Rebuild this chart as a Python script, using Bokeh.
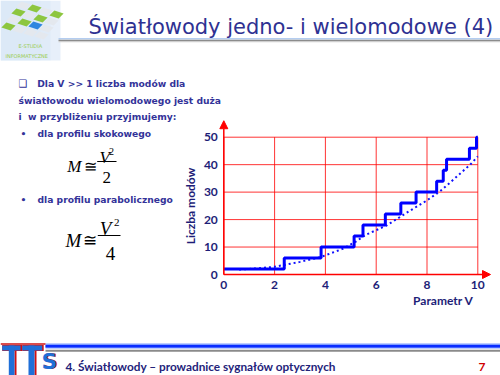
from bokeh.plotting import figure
from bokeh.models import Range1d, Label, Arrow, NormalHead, FixedTicker, LinearAxis
from bokeh.embed import file_html
from bokeh.resources import INLINE

# ---------------- data ----------------
step_v = [0.0, 2.38, 3.83, 5.13, 5.48, 6.36, 6.97, 7.57, 8.38, 8.64, 8.77, 9.67, 9.95, 10.0]
step_m = [2, 6, 10, 14, 18, 22, 26, 30, 34, 38, 42, 46, 50, 50]
approx_v = [0.6, 1.0, 2.0, 3.0, 3.8, 4.7, 5.2, 5.6, 6.4, 7.2, 8.0, 8.5, 8.9, 9.3, 9.7, 10.0]
approx_m = [1.8, 2.0, 2.8, 4.6, 6.3, 9.4, 12.0, 14.5, 17.8, 22.5, 27.0, 30.2, 33.4, 36.7, 40.0, 43.0]
x_ticks = [0, 2, 4, 6, 8, 10]
y_ticks = [0, 10, 20, 30, 40, 50]

TITLE = "Światłowody jedno- i wielomodowe (4)"
BODY = ["Dla V >> 1 liczba modów dla",
        "światłowodu wielomodowego jest duża",
        "i\u00a0 w przybliżeniu przyjmujemy:",
        "dla profilu skokowego",
        "dla profilu parabolicznego"]
X_LABEL = "Parametr V"
Y_LABEL = "Liczba modów"
FOOTER = "4. Światłowody – prowadnice sygnałów optycznych"
PAGE = "7"

# ---------------- layout constants (canvas pixels) ----------------
W, H = 500, 375
CX0, CX1 = 223.3, 477.3      # canvas x of V = 0 and V = 10
CY0, CY1 = 274.0, 136.7      # canvas y (from top) of M = 0 and M = 50
xs_ = (CX1 - CX0) / (x_ticks[-1] - x_ticks[0])
ys_ = (CY0 - CY1) / (y_ticks[-1] - y_ticks[0])
x_range = Range1d(x_ticks[0] - CX0 / xs_, x_ticks[-1] + (W - CX1) / xs_)
y_range = Range1d(y_ticks[0] - (H - CY0) / ys_, y_ticks[-1] + CY1 / ys_)

NAVY = "#333399"
AXC = "#1e1e78"
RED = "#ff0000"
AXFONT = "Lato"
PX = dict(x_range_name="px", y_range_name="px")

p = figure(width=W, height=H, x_range=x_range, y_range=y_range,
           output_backend="svg", toolbar_location=None, min_border=0,
           x_axis_type=None, y_axis_type=None, title=None)
p.extra_x_ranges = {"px": Range1d(0, W)}
p.extra_y_ranges = {"px": Range1d(H, 0)}
p.grid.visible = False
p.outline_line_color = None
p.background_fill_color = "white"
p.border_fill_color = "white"


def txt(x, y, t, size, color=NAVY, font="DejaVu Sans", style="bold",
        align="left", baseline="alphabetic"):
    p.add_layout(Label(x=x, y=y, text=t, text_font=font, text_font_size=f"{size}px",
                       text_font_style=style, text_color=color, text_align=align,
                       text_baseline=baseline, **PX))


# ---------------- logo (decorative) ----------------
for k, a in enumerate([0.5, 0.3, 0.2]):
    p.quad(left=0, right=60 - 10 * k, top=0, bottom=60, fill_color="#cfe0f5",
           fill_alpha=a, line_color=None, **PX)
ox, oy = 20.0, 0.0
u = (11.0, 3.0)
v = (-5.0, 7.0)
cols = {"g": "#8dc63f", "b": "#2f86e0", "w": "#e4e8ee"}
pattern = [["w", "g", "w", "g"],
           ["g", "w", "g", "w"],
           ["w", "g", "b", "w"],
           ["g", "w", "w", "w"]]
for j, rowp in enumerate(pattern):
    for i, c in enumerate(rowp):
        x0 = ox + i * u[0] + j * v[0]
        y0 = oy + i * u[1] + j * v[1]
        g = 0.9
        xs = [x0 + g, x0 + u[0] - g, x0 + u[0] + v[0] - g, x0 + v[0] + g]
        ys = [y0 + g, y0 + u[1] + g, y0 + u[1] + v[1] - g, y0 + v[1] - g]
        p.patch(xs, ys, fill_color=cols[c], line_color=None, **PX)
txt(18, 45, "E-STUDIA", 5, color="#9acd50", style="normal")
txt(5, 55, "INFORMATYCZNE", 5, color="#9acd50", style="normal")

# ---------------- title ----------------
txt(88, 26.7, TITLE, 21, style="normal", color="#2e3192")
p.segment(x0=58, y0=38.3, x1=W, y1=38.3, line_color="#b4cdf0", line_width=1.5, **PX)
p.segment(x0=58, y0=39.8, x1=W, y1=39.8, line_color="#8c8c8c", line_width=1.2, **PX)
p.segment(x0=58, y0=41.2, x1=W, y1=41.2, line_color="#cfcfcf", line_width=1.2, **PX)

# ---------------- body text ----------------
txt(18, 83.3, "❑", 10, style="normal")
txt(36.7, 83.3, BODY[0], 9.2)
txt(18, 99.5, BODY[1], 9.2)
txt(18, 116, BODY[2], 9.2)
txt(20, 132.5, "•", 9.2)
txt(37, 132.5, BODY[3], 9.2)
txt(20, 198.7, "•", 9.2)
txt(37, 198.7, BODY[4], 9.2)

SERIF = "Liberation Serif"
# M ≅ V^2 / 2
txt(66.7, 166, "M", 17, color="black", font=SERIF, style="italic")
txt(89.7, 165.5, "≅", 16, color="black", font="DejaVu Serif", style="normal", align="center")
txt(99, 156.7, "V", 17, color="black", font=SERIF, style="italic")
txt(108.5, 151, "2", 10, color="black", font=SERIF, style="normal")
p.segment(x0=96.7, y0=161, x1=116, y1=161, line_color="black", line_width=1, **PX)
txt(106.3, 176.7, "2", 17, color="black", font=SERIF, style="normal", align="center")
# M ≅ V^2 / 4
txt(65, 240, "M", 19, color="black", font=SERIF, style="italic")
txt(89.7, 239, "≅", 17, color="black", font="DejaVu Serif", style="normal", align="center")
txt(99.3, 228.3, "V", 19, color="black", font=SERIF, style="italic")
txt(113.5, 222.3, "2", 11, color="black", font=SERIF, style="normal")
p.segment(x0=97.3, y0=235, x1=120, y1=235, line_color="black", line_width=1, **PX)
txt(110, 253.3, "4", 19, color="black", font=SERIF, style="normal", align="center")

# ---------------- chart ----------------
n_x, n_y = len(x_ticks), len(y_ticks)
p.segment(x0=x_ticks, y0=[y_ticks[0]] * n_x, x1=x_ticks, y1=[y_ticks[-1]] * n_x,
          line_color=RED, line_alpha=0.8, line_width=1)
p.segment(x0=[x_ticks[0]] * n_y, y0=y_ticks, x1=[x_ticks[-1]] * n_y, y1=y_ticks,
          line_color=RED, line_alpha=0.8, line_width=1)

xax = LinearAxis(fixed_location=0, bounds=(x_ticks[0], x_ticks[-1]),
                 ticker=FixedTicker(ticks=x_ticks))
yax = LinearAxis(fixed_location=0, bounds=(y_ticks[0], y_ticks[-1]),
                 ticker=FixedTicker(ticks=y_ticks), axis_label=Y_LABEL)
for ax in (xax, yax):
    ax.axis_line_color = None
    ax.major_tick_line_color = None
    ax.minor_tick_line_color = None
    ax.major_tick_out = 0
    ax.major_tick_in = 0
    ax.minor_tick_out = 0
    ax.minor_tick_in = 0
    ax.major_label_text_font = AXFONT
    ax.major_label_text_font_style = "bold"
    ax.major_label_text_font_size = "12px"
    ax.major_label_text_color = AXC
xax.major_label_standoff = 6
yax.major_label_standoff = 6
yax.axis_label_text_font = AXFONT
yax.axis_label_text_font_style = "bold"
yax.axis_label_text_font_size = "12px"
yax.axis_label_text_color = AXC
yax.axis_label_standoff = 3
p.add_layout(xax, "below")
p.add_layout(yax, "left")

p.line(approx_v, approx_m, line_color="#1010ff", line_width=2, line_dash="2 3")
p.step(step_v, step_m, mode="after", line_color="#0000ff", line_width=3)

p.add_layout(Arrow(end=NormalHead(size=8, fill_color=RED, line_color=RED),
                   x_start=0, y_start=0, x_end=10.5, y_end=0,
                   line_color=RED, line_width=1.5))
p.add_layout(Arrow(end=NormalHead(size=8, fill_color=RED, line_color=RED),
                   x_start=0, y_start=0, x_end=0, y_end=56.0,
                   line_color=RED, line_width=1.5))
txt(473, 300, X_LABEL, 12, color=AXC, font=AXFONT, style="bold", align="right",
    baseline="middle")

# ---------------- footer ----------------
FY = 320
p.segment(x0=45, y0=FY + 25.5, x1=W, y1=FY + 25.5, line_color="#7f9cff", line_width=5, **PX)
p.segment(x0=45, y0=FY + 25.8, x1=W, y1=FY + 25.8, line_color="#0a2cff", line_width=2.5, **PX)
p.segment(x0=45, y0=FY + 30.3, x1=W, y1=FY + 30.3, line_color="#8a8a8a", line_width=2, **PX)
p.segment(x0=0, y0=FY + 23.5, x1=45, y1=FY + 23.5, line_color="#d01010", line_width=1.5, **PX)
for (bx0, bx1, sx0, sx1) in [(1.7, 20, 8.3, 14), (21.7, 41.7, 28, 34)]:
    p.quad(left=sx1, right=sx1 + 2, top=FY + 30, bottom=H, fill_color="#d01010",
           line_color=None, **PX)
    p.quad(left=bx0, right=bx1 + 1.5, top=FY + 24.5, bottom=FY + 30.5, fill_color="#d01010",
           line_color=None, **PX)
    p.quad(left=bx0, right=bx1, top=FY + 25, bottom=FY + 30, fill_color="#1f6fd8",
           line_color=None, **PX)
    p.quad(left=sx0, right=sx1, top=FY + 25, bottom=H, fill_color="#1f6fd8",
           line_color=None, **PX)
txt(42, FY + 53.5, "S", 22, color="#d01010", font="DejaVu Sans", style="bold",
    baseline="bottom")
txt(41, FY + 53, "S", 22, color="#1f6fd8", font="DejaVu Sans", style="bold",
    baseline="bottom")
txt(65, FY + 46, FOOTER, 11.8, color="#23237a", font=AXFONT, style="bold")
txt(478, FY + 46, PAGE, 12, color="#d00000", font=AXFONT, style="bold")

open("out.html", "w").write(file_html(p, INLINE, title="Światłowody"))
